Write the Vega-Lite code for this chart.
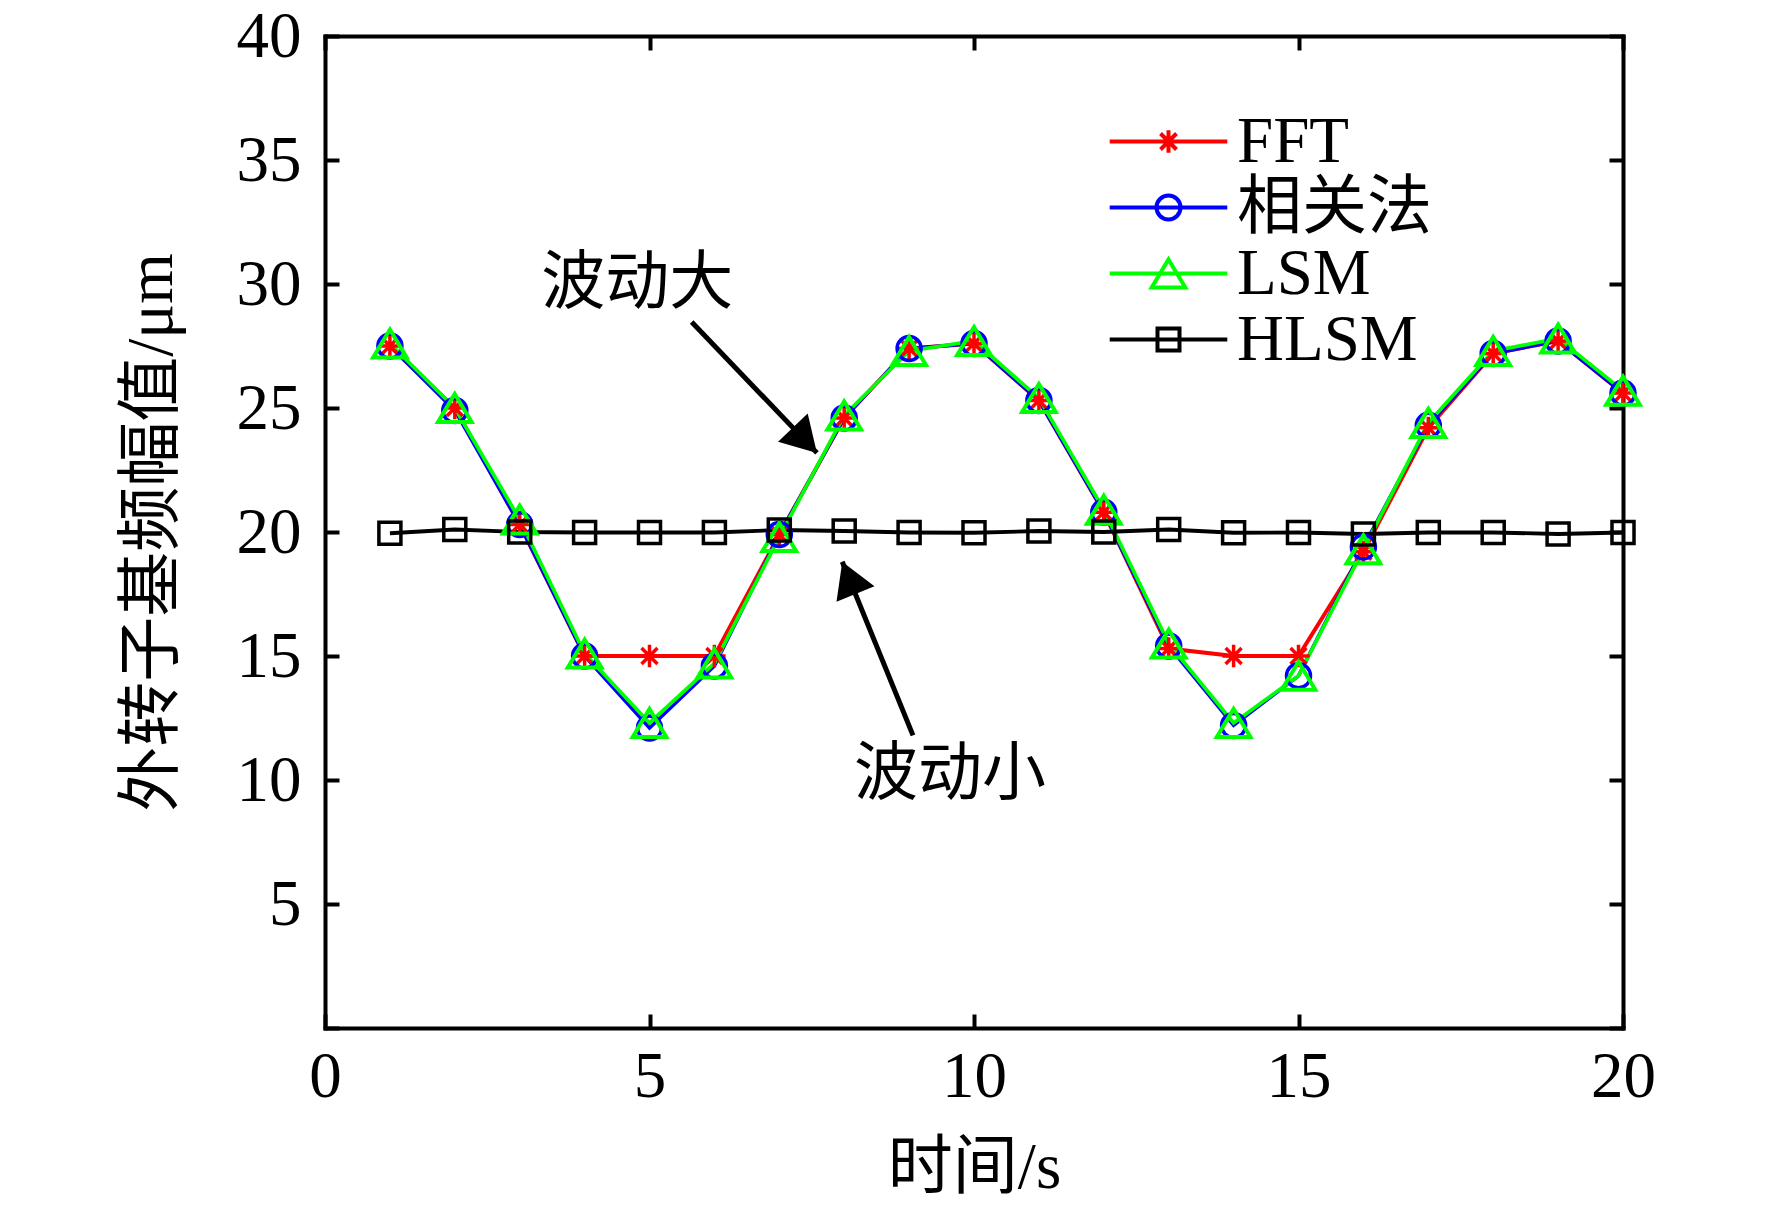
{
  "$schema": "https://vega.github.io/schema/vega-lite/v6.json",
  "width": 1298,
  "height": 992,
  "autosize": "none",
  "padding": {"left": 325, "top": 36, "right": 149, "bottom": 177},
  "background": "white",
  "datasets": {
    "series": [
      {"t": 1, "method": "FFT", "value": 27.5},
      {"t": 2, "method": "FFT", "value": 25.0},
      {"t": 3, "method": "FFT", "value": 20.3},
      {"t": 4, "method": "FFT", "value": 15.0},
      {"t": 5, "method": "FFT", "value": 15.0},
      {"t": 6, "method": "FFT", "value": 15.0},
      {"t": 7, "method": "FFT", "value": 19.9},
      {"t": 8, "method": "FFT", "value": 24.6},
      {"t": 9, "method": "FFT", "value": 27.4},
      {"t": 10, "method": "FFT", "value": 27.6},
      {"t": 11, "method": "FFT", "value": 25.3},
      {"t": 12, "method": "FFT", "value": 20.8},
      {"t": 13, "method": "FFT", "value": 15.3},
      {"t": 14, "method": "FFT", "value": 15.0},
      {"t": 15, "method": "FFT", "value": 15.0},
      {"t": 16, "method": "FFT", "value": 19.2},
      {"t": 17, "method": "FFT", "value": 24.2},
      {"t": 18, "method": "FFT", "value": 27.2},
      {"t": 19, "method": "FFT", "value": 27.7},
      {"t": 20, "method": "FFT", "value": 25.6},
      {"t": 1, "method": "相关法", "value": 27.5},
      {"t": 2, "method": "相关法", "value": 24.9},
      {"t": 3, "method": "相关法", "value": 20.3},
      {"t": 4, "method": "相关法", "value": 15.0},
      {"t": 5, "method": "相关法", "value": 12.1},
      {"t": 6, "method": "相关法", "value": 14.6},
      {"t": 7, "method": "相关法", "value": 19.9},
      {"t": 8, "method": "相关法", "value": 24.6},
      {"t": 9, "method": "相关法", "value": 27.4},
      {"t": 10, "method": "相关法", "value": 27.6},
      {"t": 11, "method": "相关法", "value": 25.3},
      {"t": 12, "method": "相关法", "value": 20.8},
      {"t": 13, "method": "相关法", "value": 15.4},
      {"t": 14, "method": "相关法", "value": 12.2},
      {"t": 15, "method": "相关法", "value": 14.2},
      {"t": 16, "method": "相关法", "value": 19.4},
      {"t": 17, "method": "相关法", "value": 24.3},
      {"t": 18, "method": "相关法", "value": 27.2},
      {"t": 19, "method": "相关法", "value": 27.7},
      {"t": 20, "method": "相关法", "value": 25.6},
      {"t": 1, "method": "LSM", "value": 27.6},
      {"t": 2, "method": "LSM", "value": 25.0},
      {"t": 3, "method": "LSM", "value": 20.5},
      {"t": 4, "method": "LSM", "value": 15.1},
      {"t": 5, "method": "LSM", "value": 12.3},
      {"t": 6, "method": "LSM", "value": 14.7},
      {"t": 7, "method": "LSM", "value": 19.8},
      {"t": 8, "method": "LSM", "value": 24.7},
      {"t": 9, "method": "LSM", "value": 27.3},
      {"t": 10, "method": "LSM", "value": 27.7},
      {"t": 11, "method": "LSM", "value": 25.4},
      {"t": 12, "method": "LSM", "value": 20.9},
      {"t": 13, "method": "LSM", "value": 15.5},
      {"t": 14, "method": "LSM", "value": 12.3},
      {"t": 15, "method": "LSM", "value": 14.2},
      {"t": 16, "method": "LSM", "value": 19.3},
      {"t": 17, "method": "LSM", "value": 24.4},
      {"t": 18, "method": "LSM", "value": 27.3},
      {"t": 19, "method": "LSM", "value": 27.8},
      {"t": 20, "method": "LSM", "value": 25.7},
      {"t": 1, "method": "HLSM", "value": 19.95},
      {"t": 2, "method": "HLSM", "value": 20.1},
      {"t": 3, "method": "HLSM", "value": 20.0},
      {"t": 4, "method": "HLSM", "value": 19.98},
      {"t": 5, "method": "HLSM", "value": 19.98},
      {"t": 6, "method": "HLSM", "value": 19.98},
      {"t": 7, "method": "HLSM", "value": 20.08},
      {"t": 8, "method": "HLSM", "value": 20.04},
      {"t": 9, "method": "HLSM", "value": 19.98},
      {"t": 10, "method": "HLSM", "value": 19.97},
      {"t": 11, "method": "HLSM", "value": 20.04},
      {"t": 12, "method": "HLSM", "value": 20.0},
      {"t": 13, "method": "HLSM", "value": 20.1},
      {"t": 14, "method": "HLSM", "value": 19.97},
      {"t": 15, "method": "HLSM", "value": 19.98},
      {"t": 16, "method": "HLSM", "value": 19.92},
      {"t": 17, "method": "HLSM", "value": 19.98},
      {"t": 18, "method": "HLSM", "value": 19.98},
      {"t": 19, "method": "HLSM", "value": 19.92},
      {"t": 20, "method": "HLSM", "value": 19.98}
    ],
    "notes": [
      {"id": "big", "label": "波动大", "tx": 4.81, "ty": 30.0, "x0": 5.65, "y0": 28.47, "x1": 7.58, "y1": 23.19},
      {"id": "small", "label": "波动小", "tx": 9.63, "ty": 10.2, "x0": 9.06, "y0": 11.8, "x1": 7.97, "y1": 18.8}
    ]
  },
  "resolve": {"axis": {"x": "independent", "y": "independent"}},
  "layer": [
    {
      "data": {"name": "series"},
      "mark": {"type": "line"},
      "encoding": {
        "x": {
          "field": "t", "type": "quantitative",
          "scale": {"domain": [0, 20], "nice": false, "zero": false},
          "axis": {"orient": "bottom", "values": [0, 5, 10, 15, 20], "title": "时间/s"}
        },
        "y": {
          "field": "value", "type": "quantitative",
          "scale": {"domain": [0, 40], "nice": false},
          "axis": {
            "orient": "left", "values": [0, 5, 10, 15, 20, 25, 30, 35, 40],
            "title": "外转子基频幅值/μm",
            "labelExpr": "datum.value == 0 ? '' : datum.label"
          }
        },
        "color": {
          "field": "method", "type": "nominal",
          "scale": {"range": ["#ff0000", "#000000", "#00ff00", "#0000ff"]},
          "legend": null
        },
        "strokeWidth": {
          "field": "method", "type": "nominal",
          "scale": {"range": [4, 3.5, 4, 4]},
          "legend": null
        }
      }
    },
    {
      "data": {"name": "series"},
      "transform": [{"filter": {"field": "method", "equal": "FFT"}}],
      "mark": {"type": "point", "shape": "M0,-0.8L0,0.8M-0.8,0L0.8,0M-0.57,-0.57L0.57,0.57M-0.57,0.57L0.57,-0.57", "size": 784, "filled": false, "strokeWidth": 3.5, "opacity": 1},
      "encoding": {
        "x": {"field": "t", "type": "quantitative", "axis": null},
        "y": {"field": "value", "type": "quantitative", "axis": null},
        "color": {"field": "method", "type": "nominal", "legend": null}
      }
    },
    {
      "data": {"name": "series"},
      "transform": [{"filter": {"field": "method", "equal": "相关法"}}],
      "mark": {"type": "point", "shape": "M-0.857,0A0.857,0.857,0,1,0,0.857,0A0.857,0.857,0,1,0,-0.857,0Z", "size": 784, "filled": false, "strokeWidth": 3.5, "opacity": 1},
      "encoding": {
        "x": {"field": "t", "type": "quantitative", "axis": null},
        "y": {"field": "value", "type": "quantitative", "axis": null},
        "color": {"field": "method", "type": "nominal", "legend": null}
      }
    },
    {
      "data": {"name": "series"},
      "transform": [{"filter": {"field": "method", "equal": "LSM"}}],
      "mark": {"type": "point", "shape": "M0,-1L1.2,1L-1.2,1Z", "size": 784, "filled": false, "strokeWidth": 4, "opacity": 1},
      "encoding": {
        "x": {"field": "t", "type": "quantitative", "axis": null},
        "y": {"field": "value", "type": "quantitative", "axis": null},
        "color": {"field": "method", "type": "nominal", "legend": null}
      }
    },
    {
      "data": {"name": "series"},
      "transform": [{"filter": {"field": "method", "equal": "HLSM"}}],
      "mark": {"type": "point", "shape": "M-0.786,-0.786L0.786,-0.786L0.786,0.786L-0.786,0.786Z", "size": 784, "filled": false, "strokeWidth": 3.5, "opacity": 1},
      "encoding": {
        "x": {"field": "t", "type": "quantitative", "axis": null},
        "y": {"field": "value", "type": "quantitative", "axis": null},
        "color": {"field": "method", "type": "nominal", "legend": null}
      }
    },
    {
      "data": {"name": "series"},
      "transform": [{"filter": "false"}],
      "mark": {"type": "point", "filled": false, "size": 784, "opacity": 1, "strokeWidth": 4},
      "encoding": {
        "x": {
          "field": "t", "type": "quantitative",
          "axis": {"orient": "top", "values": [0, 5, 10, 15, 20], "labels": false, "title": null}
        },
        "y": {
          "field": "value", "type": "quantitative",
          "axis": {"orient": "right", "values": [0, 5, 10, 15, 20, 25, 30, 35, 40], "labels": false, "title": null}
        },
        "stroke": {
          "field": "method", "type": "nominal",
          "scale": {"domain": ["FFT", "相关法", "LSM", "HLSM"], "range": ["#ff0000", "#0000ff", "#00ff00", "#000000"]},
          "legend": {
            "title": null, "orient": "none", "legendX": 768, "legendY": 73, "padding": 0,
            "symbolStrokeWidth": 4, "symbolSize": 784, "symbolOffset": 43,
            "symbolFillColor": "transparent", "labelOffset": 36, "rowPadding": 0, "labelLimit": 500,
            "labelFont": "Liberation Serif, Noto Sans CJK SC", "labelFontSize": 65, "labelColor": "black"
          }
        },
        "shape": {
          "field": "method", "type": "nominal",
          "scale": {
            "domain": ["FFT", "相关法", "LSM", "HLSM"],
            "range": [
              "M-4.2,0L4.2,0M0,-0.8L0,0.8M-0.57,-0.57L0.57,0.57M-0.57,0.57L0.57,-0.57",
              "M-4.2,0L4.2,0M-0.857,0A0.857,0.857,0,1,0,0.857,0A0.857,0.857,0,1,0,-0.857,0Z",
              "M-4.2,0L4.2,0M0,-1L1.2,1L-1.2,1Z",
              "M-4.2,0L4.2,0M-0.786,-0.786L0.786,-0.786L0.786,0.786L-0.786,0.786Z"
            ]
          },
          "legend": {
            "title": null, "orient": "none", "legendX": 768, "legendY": 73, "padding": 0,
            "symbolStrokeWidth": 4, "symbolSize": 784, "symbolOffset": 43,
            "symbolFillColor": "transparent", "labelOffset": 36, "rowPadding": 0, "labelLimit": 500,
            "labelFont": "Liberation Serif, Noto Sans CJK SC", "labelFontSize": 65, "labelColor": "black"
          }
        }
      }
    },
    {
      "data": {"name": "notes"},
      "mark": {"type": "rule", "strokeWidth": 5, "color": "black"},
      "encoding": {
        "x": {"field": "x0", "type": "quantitative", "axis": null},
        "y": {"field": "y0", "type": "quantitative", "axis": null},
        "x2": {"field": "x1"},
        "y2": {"field": "y1"}
      }
    },
    {
      "data": {"name": "notes"},
      "transform": [{"filter": {"field": "id", "equal": "big"}}],
      "mark": {"type": "point", "shape": "M0,0L1,1.7L-1,1.7Z", "size": 1681, "filled": true, "color": "black", "opacity": 1, "angle": 136.3},
      "encoding": {
        "x": {"field": "x1", "type": "quantitative", "axis": null},
        "y": {"field": "y1", "type": "quantitative", "axis": null}
      }
    },
    {
      "data": {"name": "notes"},
      "transform": [{"filter": {"field": "id", "equal": "small"}}],
      "mark": {"type": "point", "shape": "M0,0L1,1.7L-1,1.7Z", "size": 1681, "filled": true, "color": "black", "opacity": 1, "angle": 337.7},
      "encoding": {
        "x": {"field": "x1", "type": "quantitative", "axis": null},
        "y": {"field": "y1", "type": "quantitative", "axis": null}
      }
    },
    {
      "data": {"name": "notes"},
      "mark": {"type": "text", "font": "Noto Sans CJK SC", "fontSize": 64, "color": "black", "align": "center", "baseline": "middle"},
      "encoding": {
        "x": {"field": "tx", "type": "quantitative", "axis": null},
        "y": {"field": "ty", "type": "quantitative", "axis": null},
        "text": {"field": "label"}
      }
    }
  ],
  "config": {
    "view": {"stroke": null},
    "axis": {
      "grid": false,
      "domainColor": "black", "domainWidth": 4, "domainCap": "square",
      "tickColor": "black", "tickWidth": 4, "tickSize": -14,
      "labelFont": "Liberation Serif", "labelFontSize": 65, "labelColor": "black",
      "labelFlush": false, "labelOverlap": false, "labelBound": false,
      "titleFont": "Liberation Serif, Noto Sans CJK SC", "titleFontSize": 65,
      "titleFontWeight": "normal", "titleColor": "black"
    },
    "axisX": {"labelPadding": 31, "titlePadding": 27},
    "axisY": {"labelPadding": 38, "titlePadding": 51}
  }
}
